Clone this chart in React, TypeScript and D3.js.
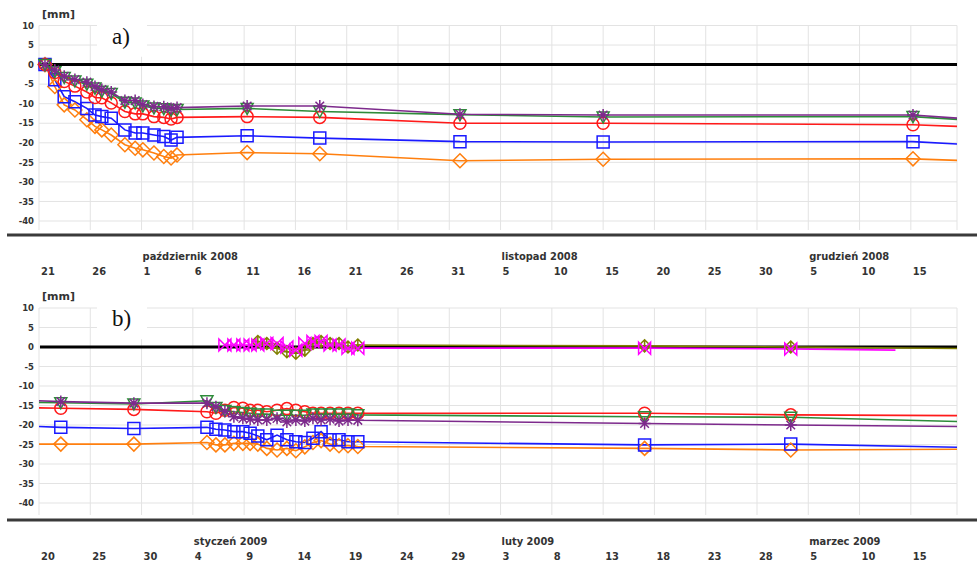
import React from "react";
import * as d3 from "d3";

const W = 977;
const H = 564;

// ---------- shared axis data ----------
const yTicks = [10, 5, 0, -5, -10, -15, -20, -25, -30, -35, -40];

// ---------- panel a ----------
const ticksA = ["21", "26", "1", "6", "11", "16", "21", "26", "31", "5", "10", "15", "20", "25", "30", "5", "10", "15"];
const monthsA = ["październik 2008", "listopad 2008", "grudzień 2008"];
const monthAnchorsA = ["2008-10-01", "2008-11-05", "2008-12-05"];
const domainA = ["2008-09-21T00:00", "2008-12-19T12:00"];

const datesA = [
  "2008-09-21T14:00", "2008-09-22T13:00", "2008-09-23T11:00", "2008-09-24T12:00", "2008-09-25T16:00",
  "2008-09-26T11:00", "2008-09-27T03:00", "2008-09-28T01:00", "2008-09-29T09:00", "2008-09-30T09:00",
  "2008-10-01T03:00", "2008-10-02T05:00", "2008-10-03T04:00", "2008-10-03T21:00", "2008-10-04T11:00",
  "2008-10-11T07:00", "2008-10-18T09:00", "2008-11-01T01:00", "2008-11-15T00:00", "2008-12-15T05:00",
];
const orangeA = [0, -5.6, -10.3, -11.6, -14.1, -15.8, -16.7, -18.0, -20.5, -21.4, -21.8, -22.6, -23.5, -23.9, -23.1, -22.5, -22.8, -24.6, -24.2, -24.1];
const blueA = [0, -3.9, -8.2, -9.5, -11.2, -12.9, -13.3, -13.7, -16.7, -17.5, -17.5, -18.0, -18.4, -19.3, -18.6, -18.2, -18.8, -19.7, -19.8, -19.7];
const redA = [0, -2.0, -4.3, -5.5, -7.0, -8.4, -8.5, -9.8, -12.0, -12.6, -12.6, -13.3, -13.5, -13.9, -13.5, -13.3, -13.5, -15.0, -15.0, -15.4];
const greenA = [0, -1.8, -3.3, -4.2, -5.0, -6.0, -6.8, -7.4, -9.6, -9.8, -10.6, -11.1, -11.3, -11.6, -11.5, -11.2, -12.0, -12.8, -13.4, -13.3];
const purpleA = [0, -1.4, -3.0, -3.8, -4.5, -5.6, -6.4, -7.0, -9.2, -9.2, -10.2, -10.7, -10.8, -11.2, -11.0, -10.6, -10.6, -12.7, -12.9, -12.9];
// line values at the right edge of panel a
const endOrangeA = -24.5;
const endBlueA = -20.3;
const endRedA = -15.8;
const endGreenA = -14.0;
const endPurpleA = -13.7;

// ---------- panel b ----------
const ticksB = ["20", "25", "30", "4", "9", "14", "19", "24", "29", "3", "8", "13", "18", "23", "28", "5", "10", "15"];
const monthsB = ["styczeń 2009", "luty 2009", "marzec 2009"];
const monthAnchorsB = ["2009-01-04", "2009-02-03", "2009-03-05"];
const domainB = ["2008-12-20T00:00", "2009-03-19T12:00"];

const datesB = [
  "2008-12-22T03:00", "2008-12-29T06:00", "2009-01-05T09:00", "2009-01-06T06:00", "2009-01-07T03:00",
  "2009-01-08T00:00", "2009-01-08T21:00", "2009-01-09T14:00", "2009-01-10T08:00", "2009-01-11T05:00",
  "2009-01-12T05:00", "2009-01-13T04:00", "2009-01-14T01:00", "2009-01-14T22:00", "2009-01-15T17:00",
  "2009-01-16T12:00", "2009-01-17T09:00", "2009-01-18T06:00", "2009-01-19T03:00", "2009-01-20T02:00",
  "2009-02-17T01:00", "2009-03-03T07:00",
];
const purpleB = [-14.0, -14.4, -14.4, -15.3, -16.5, -17.9, -18.3, -18.5, -18.7, -18.7, -18.3, -19.2, -18.7, -19.0, -18.3, -18.7, -18.5, -19.0, -18.7, -18.8, -19.6, -20.0];
const greenB = [-14.3, -14.6, -13.8, -15.5, -16.3, -16.6, -16.8, -17.0, -17.2, -17.2, -17.5, -17.5, -17.5, -17.5, -17.2, -17.2, -17.2, -17.2, -17.2, -17.4, -17.9, -18.0];
const redB = [-15.7, -16.0, -16.6, -17.0, -16.2, -15.5, -15.7, -16.2, -16.2, -16.6, -16.2, -15.8, -16.2, -16.6, -17.0, -17.0, -17.0, -17.0, -17.0, -17.0, -17.0, -17.4];
const blueB = [-20.6, -20.9, -20.6, -21.1, -21.3, -21.7, -21.7, -22.1, -22.8, -23.8, -22.6, -23.8, -24.3, -24.5, -23.4, -21.7, -23.8, -23.8, -24.3, -24.3, -25.1, -24.9];
const orangeB = [-24.9, -24.9, -24.5, -25.1, -25.1, -24.7, -24.7, -24.7, -24.9, -26.0, -26.4, -26.0, -26.6, -25.6, -24.5, -24.0, -24.9, -25.3, -25.3, -25.5, -26.0, -26.4];
const magentaB = [null, null, null, null, 0.5, 0.5, 0.5, 0.5, 0.5, 0.9, 0.9, 0.0, -0.8, 0.9, 1.4, 1.4, 0.5, 0.5, -0.3, -0.3, -0.3, -0.5];
const oliveB = [null, null, null, null, null, null, null, null, 1.4, 0.9, -0.3, -1.2, -1.6, -0.8, 0.9, 1.4, 0.9, 0.9, 0.0, 0.5, 0.3, 0.0];
// line values at the left edge of panel b
const startPurpleB = -13.8;
const startGreenB = -14.2;
const startRedB = -15.6;
const startBlueB = -20.4;
const startOrangeB = -24.9;
// line values at the right end of panel b
const endPurpleB = -20.4;
const endGreenB = -19.1;
const endRedB = -17.6;
const endBlueB = -25.7;
const endOrangeB = -26.2;
const endOliveB = -0.4;
const endMagentaB = -0.8;
const endMagentaDateB = "2009-03-13T12:00";

// ---------- helpers ----------
const parseT = d3.timeParse("%Y-%m-%dT%H:%M");
const parseD = d3.timeParse("%Y-%m-%d");

type Pt = { t: Date; v: number };

const markerPath = (kind: string): string => {
  switch (kind) {
    case "square":
      return "M-6,-6H6V6H-6Z";
    case "circle":
      return "M-6,0A6,6 0 1,0 6,0A6,6 0 1,0 -6,0Z";
    case "diamond":
      return "M0,-7L7,0L0,7L-7,0Z";
    case "asterisk":
      return "M-6,0H6M0,-6V6M-4.3,-4.3L4.3,4.3M-4.3,4.3L4.3,-4.3";
    case "triangle":
      return "M-6,-5H6L0,6Z";
    case "bowtie":
      return "M-6,-6L0,0L-6,6ZM6,-6L0,0L6,6Z";
    case "cross":
      return "M0,-6L6,0L0,6L-6,0ZM0,-6V6M-6,0H6";
    default:
      return "";
  }
};

type SeriesDef = {
  color: string;
  marker: string;
  dates: string[];
  values: (number | null)[];
  start?: number;
  end: number;
  endDate?: string;
};

type PanelDef = {
  top: number; // y of value 10
  bottom: number; // y of value -40
  plotBottom: number;
  sepY: number;
  label: string;
  domain: string[];
  ticks: string[];
  months: string[];
  monthAnchors: string[];
  series: SeriesDef[];
};

const X0 = 39;
const X1 = 957;

const COLORS = {
  orange: "#ff7f0e",
  blue: "#1a1aff",
  red: "#ff1a1a",
  green: "#2e8b3a",
  purple: "#7d2a8c",
  magenta: "#ff00ff",
  olive: "#808000",
};

const panels: PanelDef[] = [
  {
    top: 25.5,
    bottom: 221,
    plotBottom: 230,
    sepY: 235,
    label: "a)",
    domain: domainA,
    ticks: ticksA,
    months: monthsA,
    monthAnchors: monthAnchorsA,
    series: [
      { color: COLORS.orange, marker: "diamond", dates: datesA, values: orangeA, end: endOrangeA },
      { color: COLORS.blue, marker: "square", dates: datesA, values: blueA, end: endBlueA },
      { color: COLORS.red, marker: "circle", dates: datesA, values: redA, end: endRedA },
      { color: COLORS.green, marker: "triangle", dates: datesA, values: greenA, end: endGreenA },
      { color: COLORS.purple, marker: "asterisk", dates: datesA, values: purpleA, end: endPurpleA },
    ],
  },
  {
    top: 308,
    bottom: 503,
    plotBottom: 515,
    sepY: 520,
    label: "b)",
    domain: domainB,
    ticks: ticksB,
    months: monthsB,
    monthAnchors: monthAnchorsB,
    series: [
      { color: COLORS.orange, marker: "diamond", dates: datesB, values: orangeB, start: startOrangeB, end: endOrangeB },
      { color: COLORS.blue, marker: "square", dates: datesB, values: blueB, start: startBlueB, end: endBlueB },
      { color: COLORS.red, marker: "circle", dates: datesB, values: redB, start: startRedB, end: endRedB },
      { color: COLORS.green, marker: "triangle", dates: datesB, values: greenB, start: startGreenB, end: endGreenB },
      { color: COLORS.purple, marker: "asterisk", dates: datesB, values: purpleB, start: startPurpleB, end: endPurpleB },
      { color: COLORS.olive, marker: "cross", dates: datesB, values: oliveB, end: endOliveB },
      { color: COLORS.magenta, marker: "bowtie", dates: datesB, values: magentaB, end: endMagentaB, endDate: endMagentaDateB },
    ],
  },
];

const Panel = ({ p }: { p: PanelDef }) => {
  const t0 = parseT(p.domain[0]) as Date;
  const t1 = parseT(p.domain[1]) as Date;
  const x = d3.scaleTime().domain([t0, t1]).range([X0, X1]);
  const y = d3.scaleLinear().domain([10, -40]).range([p.top, p.bottom]);
  const tickDates = d3.timeDay.range(t0, t1, 5);
  const line = d3
    .line<Pt>()
    .x((d) => x(d.t))
    .y((d) => y(d.v));

  const gridTop = y(10);
  const tickFont = "'DejaVu Sans Condensed', 'DejaVu Sans', sans-serif";

  return (
    <g>
      {/* horizontal grid */}
      {yTicks.map((v) => (
        <line key={"h" + v} x1={X0} x2={X1} y1={y(v)} y2={y(v)} stroke="#e3e3e3" strokeWidth={1} />
      ))}
      {/* vertical grid */}
      {tickDates.map((d, i) => (
        <line key={"v" + i} x1={x(d)} x2={x(d)} y1={gridTop} y2={p.plotBottom} stroke="#e3e3e3" strokeWidth={1} />
      ))}
      <line x1={X1} x2={X1} y1={gridTop} y2={p.plotBottom} stroke="#e3e3e3" strokeWidth={1} />
      {/* panel label with white box */}
      <rect x={97} y={y(11.5)} width={50} height={y(2) - y(11.5)} fill="#fff" />
      <text x={112} y={y(5.3)} fontFamily="'Liberation Serif', 'Times New Roman', serif" fontSize={23} fill="#111">
        {p.label}
      </text>
      {/* y axis */}
      <text x={42} y={p.top - 8} fontFamily="'DejaVu Sans', sans-serif" fontWeight="bold" fontSize={11} fill="#333">
        [mm]
      </text>
      {yTicks.map((v) => (
        <text
          key={"yl" + v}
          x={34}
          y={y(v) + 3.2}
          textAnchor="end"
          fontFamily="'DejaVu Sans', sans-serif"
          fontWeight="bold"
          fontSize={8.5}
          fill="#333"
        >
          {v}
        </text>
      ))}
      {/* zero line */}
      <line x1={X0 + 1} x2={X1} y1={y(0)} y2={y(0)} stroke="#000" strokeWidth={3} />
      {/* series lines */}
      {p.series.map((s, si) => {
        const pts: Pt[] = [];
        if (s.start !== undefined) pts.push({ t: t0, v: s.start });
        s.values.forEach((v, i) => {
          if (v !== null) pts.push({ t: parseT(s.dates[i]) as Date, v });
        });
        pts.push({ t: s.endDate ? (parseT(s.endDate) as Date) : t1, v: s.end });
        return <path key={"l" + si} d={line(pts) || ""} fill="none" stroke={s.color} strokeWidth={1.6} />;
      })}
      {/* markers */}
      {p.series.map((s, si) => (
        <g key={"m" + si}>
          {s.values.map((v, i) =>
            v === null ? null : (
              <path
                key={i}
                d={markerPath(s.marker)}
                transform={`translate(${x(parseT(s.dates[i]) as Date)},${y(v)})`}
                fill="none"
                stroke={s.color}
                strokeWidth={1.5}
              />
            )
          )}
        </g>
      ))}
      {/* separator */}
      <line x1={7} x2={W} y1={p.sepY} y2={p.sepY} stroke="#3a3a3a" strokeWidth={3} />
      {/* month labels */}
      {p.months.map((m, i) => (
        <text
          key={"mo" + i}
          x={x(parseD(p.monthAnchors[i]) as Date) + 1}
          y={p.sepY + 25}
          fontFamily={tickFont}
          fontWeight="bold"
          fontSize={11}
          fill="#333"
        >
          {m}
        </text>
      ))}
      {/* tick labels */}
      {p.ticks.map((tl, i) => (
        <text
          key={"tl" + i}
          x={x(tickDates[i]) + 2}
          y={p.sepY + 40}
          fontFamily={tickFont}
          fontWeight="bold"
          fontSize={11}
          fill="#333"
        >
          {tl}
        </text>
      ))}
    </g>
  );
};

export default function App() {
  return (
    <div style={{ position: "absolute", left: 0, top: 0 }}>
      <svg width={W} height={H} viewBox={`0 0 ${W} ${H}`} style={{ display: "block", background: "#fff" }}>
        <rect x={0} y={0} width={W} height={H} fill="#fff" />
        {panels.map((p, i) => (
          <Panel key={i} p={p} />
        ))}
      </svg>
    </div>
  );
}
